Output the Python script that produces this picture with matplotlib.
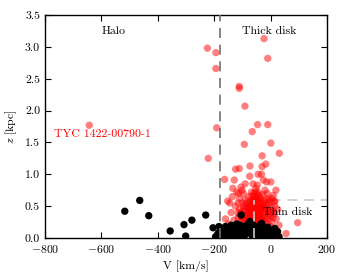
import matplotlib
matplotlib.use("Agg")
import matplotlib.pyplot as plt
import numpy as np

plt.rcParams['font.family'] = ['cmr10', 'DejaVu Serif']
plt.rcParams['mathtext.fontset'] = 'cm'
plt.rcParams['axes.formatter.use_mathtext'] = True
plt.rcParams['axes.unicode_minus'] = True

# Red (thick disk / halo candidates)
red_V = [-643, -23, -224, -194, -10, -194, -111, -111, -91, -191, -46, -10, -65,
         -93, 1, -221, -30, 31, -17, -73, -30, -124, -111, -74, -44, -32, -163, -129,
         -26, 1, -14, -134, -101, -47, 19, -152, -113, -97, 96, 55, 10, 16,
         -60, -55, -48, -42, -38, -65, -70, -75, -80, -85, -90, -95, -100, -105, -110,
         -115, -120, -125, -130, -50, -45, -40, -35, -30, -25, -20, -15, -10, -5, 0, 5,
         10, 15, 20, -55, -60, -65, -70, -75, -80, -85, -50, -45, -40, -35, -30, -25,
         -20, -15, -10, -5, 0, 5, -58, -52, -45, -62, -38, -28, -20, -12, -90, -100,
         -110, -78, -68, -88, -95, -72, -50, -42, -32, -58, -64, -48, -36, -26, -18,
         -8, 2, 12, 8, -140, -145, -135, -120, -105, -90, -160, -150, -130, -100, -70,
         25, 30, -115, -55, -62,
         -80, -75, -70, -65, -60, -55, -50, -45, -40, -35, -30, -25, -20, -65, -55,
         -45, -35, -70, -60, -50, -40, -30, -85, -78, -68, -58, -48, -38, -28, -52,
         -62, -72, -82, -42, -32, -22, -44, -54, -66, -36, -76, -86, -96, -106, -116,
         -12, -6, 4, -14, -24, -56, -46, -66, -76, -90, -100, -110, -8, 14, -2]
red_z = [1.77, 3.13, 2.98, 2.91, 2.82, 2.66, 2.38, 2.35, 2.07, 1.73, 1.78, 1.78, 1.67,
         1.47, 1.49, 1.25, 1.29, 1.33, 1.16, 1.13, 1.12, 1.08, 1.09, 0.97, 1.00, 1.00, 0.92, 0.91,
         0.91, 0.88, 0.88, 0.78, 0.75, 0.83, 0.75, 0.58, 0.70, 0.70, 0.24, 0.07, 0.67, 0.57,
         0.62, 0.55, 0.50, 0.58, 0.47, 0.45, 0.52, 0.40, 0.48, 0.35, 0.42, 0.30, 0.38, 0.25, 0.45,
         0.32, 0.20, 0.50, 0.28, 0.40, 0.35, 0.30, 0.42, 0.55, 0.48, 0.38, 0.60, 0.45, 0.52, 0.35, 0.62,
         0.42, 0.50, 0.30, 0.30, 0.25, 0.35, 0.28, 0.20, 0.30, 0.22, 0.20, 0.15, 0.22, 0.18, 0.25, 0.20,
         0.28, 0.15, 0.22, 0.30, 0.18, 0.25, 0.70, 0.78, 0.72, 0.85, 0.65, 0.68, 0.75, 0.70, 0.60, 0.55,
         0.62, 0.65, 0.72, 0.50, 0.45, 0.58, 0.62, 0.45, 0.38, 0.42, 0.38, 0.28, 0.28, 0.33, 0.45,
         0.38, 0.48, 0.58, 0.32, 0.40, 0.55, 0.65, 0.72, 0.80, 0.85, 0.30, 0.22, 0.12, 0.15, 0.12,
         0.45, 0.20, 0.55, 0.48, 0.55,
         0.45, 0.55, 0.35, 0.25, 0.48, 0.38, 0.52, 0.42, 0.50, 0.32, 0.45, 0.58, 0.52, 0.60, 0.65,
         0.60, 0.55, 0.42, 0.32, 0.28, 0.38, 0.30, 0.28, 0.35, 0.48, 0.58, 0.45, 0.40, 0.50, 0.35,
         0.42, 0.25, 0.40, 0.25, 0.48, 0.40, 0.68, 0.72, 0.66, 0.62, 0.50, 0.55, 0.50, 0.40, 0.40,
         0.55, 0.42, 0.40, 0.32, 0.25, 0.22, 0.32, 0.18, 0.30, 0.35, 0.28, 0.35, 0.62, 0.38, 0.58]

# Black (thin disk and others)
blk_V = [-517, -464, -432, -356, -307, -301, -279, -230, -204, -183, -104,
         -195, -185, -175, -170, -160, -155, -150, -145, -140, -135, -130, -125, -120,
         -115, -110, -105, -100, -95, -90, -85, -80, -75, -73, -70, -65, -60, -55, -50,
         -45, -40, -35, -32, -30, -25, -20, -15, -10, -5, 0, 5, 10, 15, 20, 25, 30,
         -180, -165, -150, -138, -118, -98, -88, -68, -58, -48, -28, -12, -2, -108, -92,
         -62, -42]
blk_z = [0.42, 0.59, 0.35, 0.11, 0.21, 0.03, 0.28, 0.36, 0.16, 0.18, 0.36,
         0.02, 0.08, 0.12, 0.04, 0.18, 0.08, 0.14, 0.03, 0.20, 0.10, 0.05, 0.16, 0.22,
         0.08, 0.13, 0.03, 0.18, 0.10, 0.05, 0.15, 0.22, 0.08, 0.26, 0.14, 0.03, 0.20, 0.10, 0.16,
         0.05, 0.12, 0.20, 0.23, 0.07, 0.14, 0.03, 0.10, 0.17, 0.05, 0.12, 0.02, 0.08, 0.15, 0.04, 0.10, 0.02,
         0.01, 0.10, 0.01, 0.06, 0.01, 0.01, 0.11, 0.07, 0.01, 0.09, 0.01, 0.04, 0.00, 0.20, 0.18,
         0.15, 0.02]

halo_cut = -180
thin_V = -60
thin_z = 0.6

fig = plt.figure(figsize=(3.46, 2.79), dpi=100)
ax = fig.add_axes([0.130, 0.147, 0.815, 0.799])

ax.plot([thin_V, 200], [thin_z, thin_z], color='#cccccc', ls=(0, (6, 4)), lw=1.2, zorder=1)

ax.scatter(red_V, red_z, s=28, color='red', alpha=0.5, edgecolors='none', zorder=2)
ax.scatter(blk_V, blk_z, s=28, color='black', edgecolors='none', zorder=3)

ax.axvline(halo_cut, color='#707070', ls=(0, (6, 4)), lw=1.2, zorder=4)
ax.plot([thin_V, thin_V], [0, thin_z], color='#cccccc', ls=(0, (6, 4)), lw=1.2, zorder=4)

ax.text(-555, 3.25, 'Halo', ha='center', va='center', fontsize=8.5)
ax.text(-5, 3.25, 'Thick disk', ha='center', va='center', fontsize=8.5)
ax.text(60, 0.40, 'Thin disk', ha='center', va='center', fontsize=8.5, zorder=5)
ax.text(-768, 1.63, 'TYC 1422-00790-1', ha='left', va='center', fontsize=8.5, color='red')

ax.set_xlim(-800, 200)
ax.set_ylim(0, 3.5)
ax.set_xticks(np.arange(-800, 201, 200))
ax.set_yticks(np.arange(0, 3.51, 0.5))
ax.yaxis.set_major_formatter(matplotlib.ticker.FormatStrFormatter('%.1f'))
ax.tick_params(direction='in', top=True, right=True, length=4, width=0.8, labelsize=8.5)
for sp in ax.spines.values():
    sp.set_linewidth(1.0)
ax.set_xlabel('V [km/s]', fontsize=8.5)
ax.set_ylabel(r'$z$ [kpc]', fontsize=8.5)

fig.savefig('out.png', dpi=100)
